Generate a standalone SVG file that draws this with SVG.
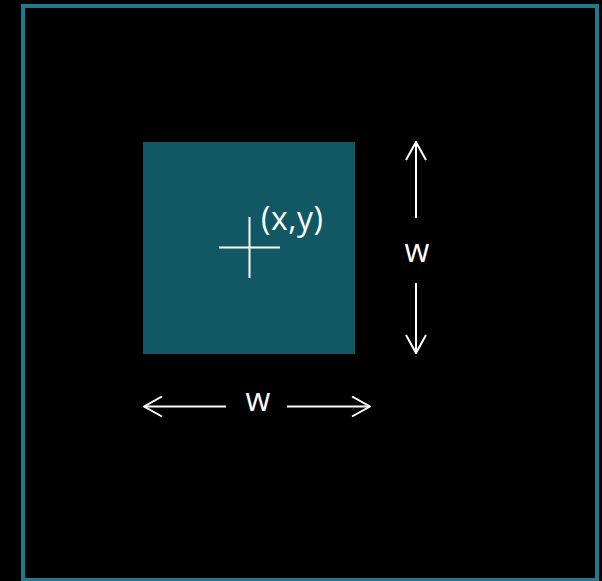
<svg xmlns="http://www.w3.org/2000/svg" width="602" height="581" viewBox="0 0 602 581">
  <defs>
    <marker id="head" viewBox="0 0 20 22" refX="19" refY="11" markerWidth="20" markerHeight="22" markerUnits="userSpaceOnUse" orient="auto">
      <polyline points="1,1 19,11 1,21" fill="none" stroke="#ffffff" stroke-width="2"/>
    </marker>
  </defs>
  <style>
    .lbl { font-family: "Open Sans", "DejaVu Sans", sans-serif; fill: #ffffff; font-size: 32px; font-weight: 500; }
    .arr { stroke: #ffffff; stroke-width: 2; fill: none; marker-end: url(#head); }
    .ln { stroke: #ffffff; stroke-width: 2; fill: none; }
  </style>
  <rect x="0" y="0" width="602" height="581" fill="#000000"/>
  <g id="frame">
    <rect x="23" y="6" width="574" height="574" fill="none" stroke="#1e7a8c" stroke-width="4"/>
  </g>
  <g id="square">
    <rect x="143" y="142" width="212" height="212" fill="#115864"/>
    <line class="ln" x1="249.5" y1="217" x2="249.5" y2="278"/>
    <line class="ln" x1="219" y1="247.5" x2="280" y2="247.5"/>
    <text class="lbl" x="261" y="230" letter-spacing="0.5">(x,y)</text>
  </g>
  <g id="connectors">
    <line class="arr" x1="416" y1="218" x2="416" y2="142"/>
    <line class="arr" x1="416" y1="283" x2="416" y2="353"/>
    <line class="arr" x1="226" y1="406.5" x2="144" y2="406.5"/>
    <line class="arr" x1="287" y1="406.5" x2="370" y2="406.5"/>
  </g>
  <g id="labels">
    <text class="lbl" x="417" y="262" text-anchor="middle">w</text>
    <text class="lbl" x="258" y="411" text-anchor="middle">w</text>
  </g>
</svg>
